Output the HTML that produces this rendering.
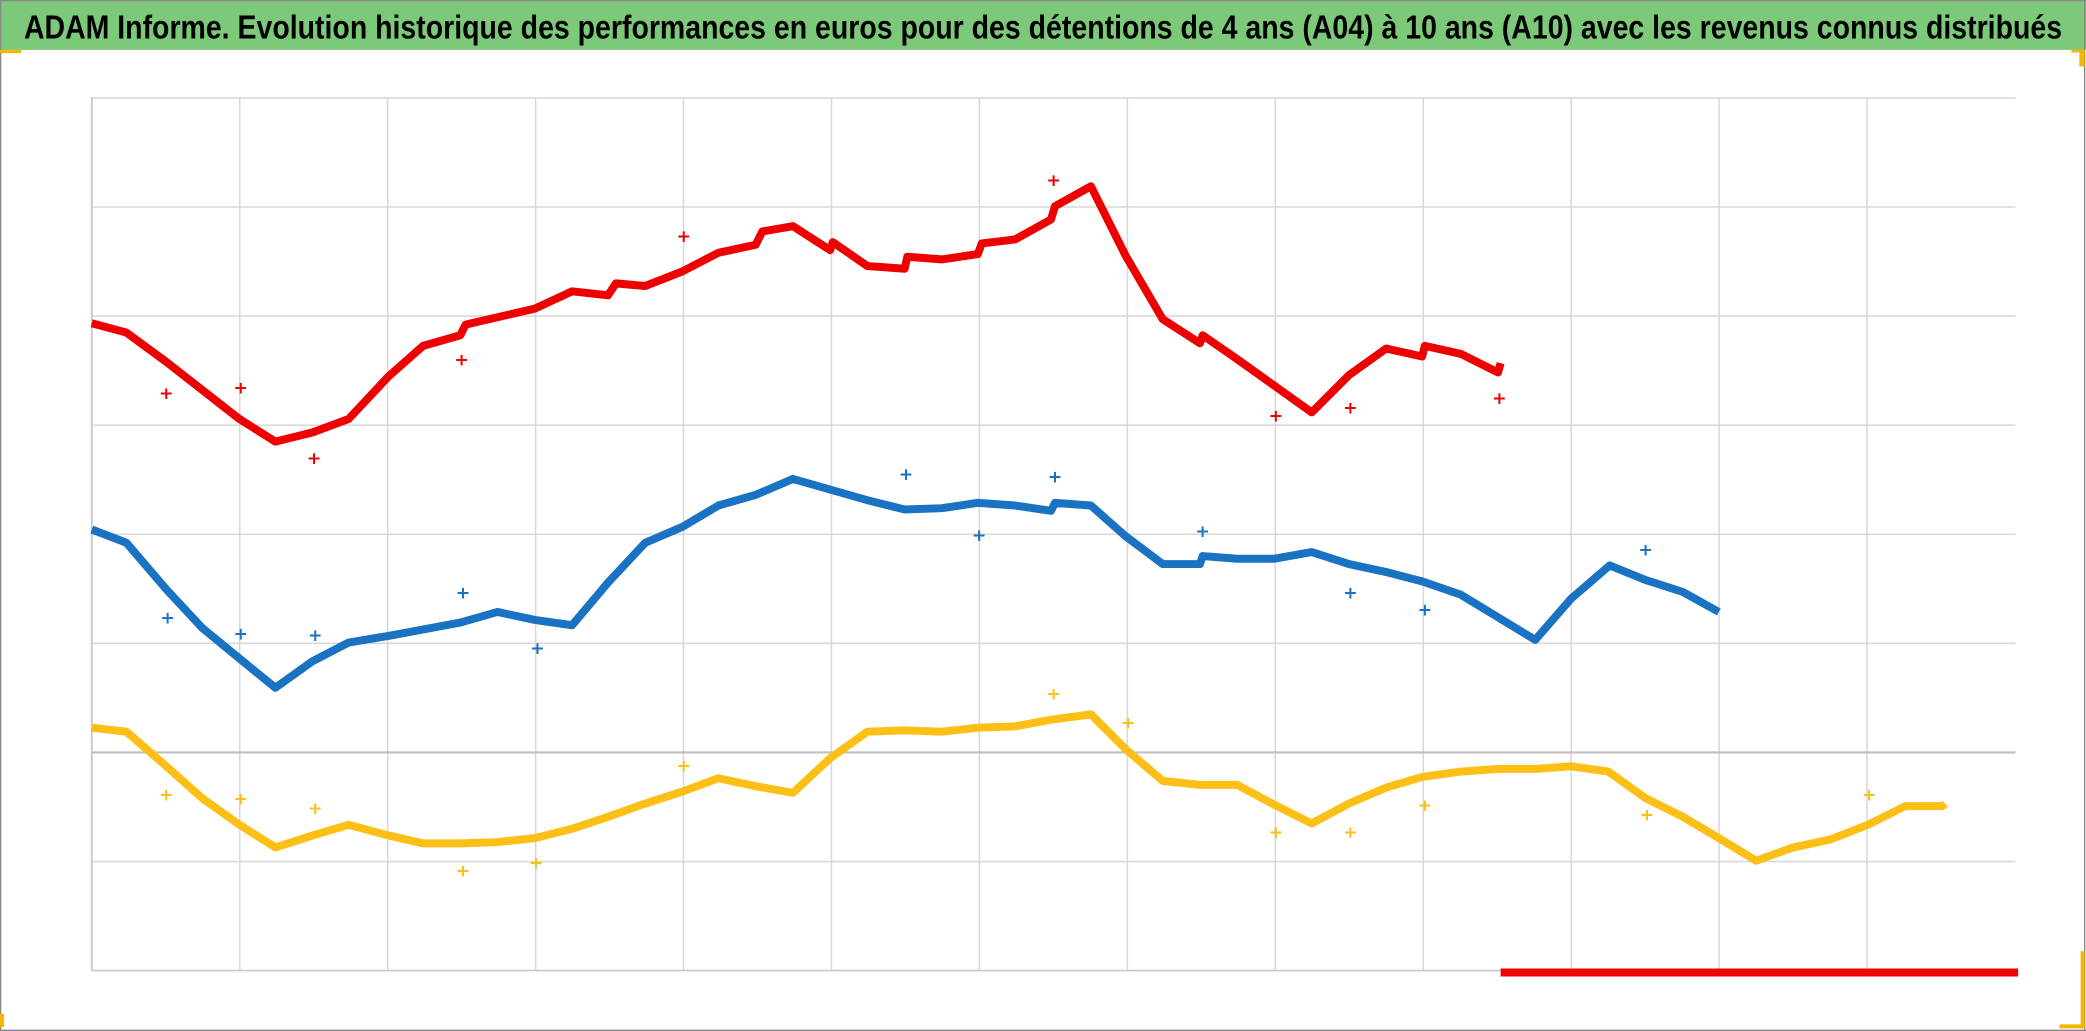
<!DOCTYPE html>
<html><head><meta charset="utf-8"><style>
html,body{margin:0;padding:0;background:#fff;}
svg{display:block;}
</style></head><body>
<svg width="2086" height="1031" viewBox="0 0 1568 775" preserveAspectRatio="none" xmlns="http://www.w3.org/2000/svg">
<rect x="0" y="0" width="1568" height="775" fill="#fff"/>
<rect x="0" y="0" width="1568" height="37.5" fill="#7dc97a"/>
<line x1="0" y1="0.5" x2="1568" y2="0.5" stroke="#888" stroke-width="1"/>
<line x1="1567" y1="0" x2="1567" y2="775" stroke="#888" stroke-width="1"/>
<line x1="0" y1="774.5" x2="1568" y2="774.5" stroke="#888" stroke-width="1"/>
<line x1="0.5" y1="0" x2="0.5" y2="775" stroke="#888" stroke-width="1"/>
<text x="18" y="29" font-family="Liberation Sans, sans-serif" font-weight="bold" font-size="25" textLength="1532" lengthAdjust="spacingAndGlyphs" fill="#000">ADAM Informe. Evolution historique des performances en euros pour des détentions de 4 ans (A04) à 10 ans (A10) avec les revenus connus distribués</text>
<!-- corners -->
<rect x="0" y="37.5" width="16" height="2.5" fill="#f5b800"/>
<rect x="1563" y="38" width="4" height="12" fill="#f5b800"/>
<rect x="1557" y="37.5" width="10" height="2" fill="#f5b800"/>
<rect x="1564" y="715" width="3" height="58" fill="#f5b800"/>
<rect x="1548" y="770" width="18" height="3" fill="#f5b800"/>
<rect x="0" y="762" width="3" height="10" fill="#f5b800"/>
<!-- grid -->
<g stroke="#d9d9d9" stroke-width="1.2">
<line x1="69" y1="73.6" x2="1515" y2="73.6"/>
<line x1="69" y1="155.6" x2="1515" y2="155.6"/>
<line x1="69" y1="237.6" x2="1515" y2="237.6"/>
<line x1="69" y1="319.6" x2="1515" y2="319.6"/>
<line x1="69" y1="401.6" x2="1515" y2="401.6"/>
<line x1="69" y1="483.6" x2="1515" y2="483.6"/>
<line x1="69" y1="647.6" x2="1515" y2="647.6"/>
<line x1="180.2" y1="73.6" x2="180.2" y2="729"/>
<line x1="291.4" y1="73.6" x2="291.4" y2="729"/>
<line x1="402.6" y1="73.6" x2="402.6" y2="729"/>
<line x1="513.8" y1="73.6" x2="513.8" y2="729"/>
<line x1="625" y1="73.6" x2="625" y2="729"/>
<line x1="736.2" y1="73.6" x2="736.2" y2="729"/>
<line x1="847.4" y1="73.6" x2="847.4" y2="729"/>
<line x1="958.6" y1="73.6" x2="958.6" y2="729"/>
<line x1="1069.8" y1="73.6" x2="1069.8" y2="729"/>
<line x1="1181" y1="73.6" x2="1181" y2="729"/>
<line x1="1292.2" y1="73.6" x2="1292.2" y2="729"/>
<line x1="1403.4" y1="73.6" x2="1403.4" y2="729"/>
</g>
<line x1="69" y1="729.6" x2="1515" y2="729.6" stroke="#c8c8c8" stroke-width="1.2"/>
<line x1="69" y1="73" x2="69" y2="730" stroke="#c8c8c8" stroke-width="1.4"/>
<line x1="69" y1="565.6" x2="1515" y2="565.6" stroke="#bfbfbf" stroke-width="1.6"/>
<!-- bottom red band -->
<line x1="1128" y1="731" x2="1517" y2="731" stroke="#f00000" stroke-width="6"/>
<g fill="none" stroke-width="6" stroke-linejoin="round">
<polyline stroke="#ee0000" points="69,243 95,250 125,272 180,315 207,332 235,325 262,315 292,283 318,260 346,252 350,244 402,232 430,219 457,222 463,213 485,215 513,204 540,190 568,184 573,174 596,170 624,188 626,182 652,200 680,202 682,193 708,195 735,191 738,183 763,180 790,165 793,155 820,140 846,192 874,240 902,258 904,252 930,270 958,290 986,310 1014,282 1042,262 1069,268 1071,260 1098,266 1126,280 1128,273"/>
<polyline stroke="#1a73c2" points="69,398 95,408 125,443 152,472 180,495 207,517 235,497 262,483 292,478 346,468 374,460 402,466 430,470 457,438 485,408 513,396 540,380 568,372 596,360 624,368 652,376 680,383 708,382 735,378 763,380 790,384 793,378 820,380 846,403 874,424 902,424 904,418 930,420 958,420 986,415 1014,424 1042,430 1069,437 1098,447 1126,464 1154,481 1181,450 1210,425 1237,436 1265,445 1292,460"/>
<polyline stroke="#fbbf16" points="69,547 95,550 125,576 152,600 180,620 207,637 235,628 262,620 292,628 318,634 346,634 374,633 402,630 430,623 457,614 485,604 513,595 540,585 568,591 596,596 624,570 652,550 680,549 708,550 735,547 763,546 790,541 820,537 846,563 874,587 902,590 930,590 958,605 986,619 1014,604 1042,592 1069,584 1098,580 1126,578 1154,578 1181,576 1209,580 1237,600 1265,614 1292,630 1320,647 1348,637 1376,631 1404,620 1432,606 1460,606 1462,604"/>
</g>
<g font-family="DejaVu Sans, sans-serif" font-size="13" font-weight="bold" text-anchor="middle" dominant-baseline="central">
<g fill="#ee0000">
<text x="125" y="296">+</text><text x="181" y="292">+</text><text x="236" y="345">+</text><text x="347" y="271">+</text><text x="514" y="178">+</text><text x="792" y="136">+</text><text x="959" y="313">+</text><text x="1015" y="307">+</text><text x="1127" y="300">+</text>
</g>
<g fill="#1a73c2">
<text x="126" y="465">+</text><text x="181" y="477">+</text><text x="237" y="478">+</text><text x="348" y="446">+</text><text x="404" y="488">+</text><text x="681" y="357">+</text><text x="736" y="403">+</text><text x="793" y="359">+</text><text x="904" y="400">+</text><text x="1015" y="446">+</text><text x="1071" y="459">+</text><text x="1237" y="414">+</text>
</g>
<g fill="#fbbf16">
<text x="125" y="598">+</text><text x="181" y="601">+</text><text x="237" y="608">+</text><text x="348" y="655">+</text><text x="403" y="649">+</text><text x="514" y="576">+</text><text x="792" y="522">+</text><text x="848" y="544">+</text><text x="959" y="626">+</text><text x="1015" y="626">+</text><text x="1071" y="606">+</text><text x="1238" y="613">+</text><text x="1405" y="598">+</text>
</g>
</g>
</svg>
</body></html>
